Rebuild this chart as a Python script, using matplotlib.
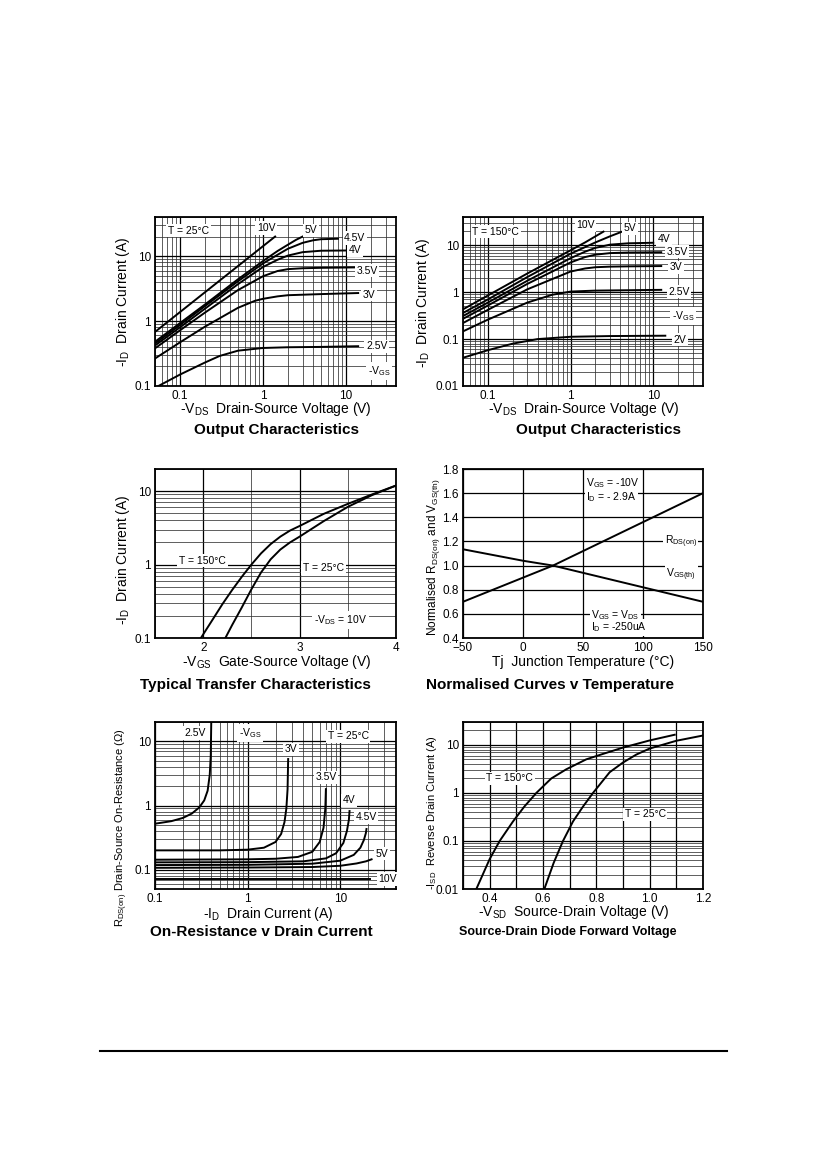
import matplotlib
matplotlib.use('Agg')
import matplotlib.pyplot as plt
from matplotlib.lines import Line2D
from matplotlib.ticker import LogLocator, NullFormatter, FuncFormatter, MultipleLocator

plt.rcParams['font.family'] = ['Liberation Sans', 'DejaVu Sans']
plt.rcParams['mathtext.fontset'] = 'custom'
plt.rcParams['mathtext.rm'] = 'Liberation Sans'
plt.rcParams['mathtext.it'] = 'Liberation Sans:italic'
plt.rcParams['mathtext.bf'] = 'Liberation Sans:bold'

W, H = 826, 1169

# ---- output characteristics, T = 25C  (-VDS, -ID)
out25 = {
    '10V': ([0.05, 1.4], [0.68, 20]),
    '5V': ([0.05, 0.1, 0.2, 0.5, 1, 1.5, 2, 2.5, 3],
           [0.48, 0.93, 1.8, 4.4, 8.4, 12, 15, 17.8, 20]),
    '4.5V': ([0.05, 0.1, 0.2, 0.5, 1, 1.5, 2, 3, 4, 5, 8],
             [0.45, 0.87, 1.7, 4.1, 7.7, 10.5, 13, 16, 17.5, 18.2, 18.5]),
    '4V': ([0.05, 0.1, 0.2, 0.5, 1, 1.5, 2, 3, 5, 10],
           [0.42, 0.8, 1.55, 3.7, 6.8, 8.8, 10.2, 11.5, 12.1, 12.2]),
    '3.5V': ([0.05, 0.1, 0.2, 0.5, 1, 1.5, 2, 3, 5, 13],
             [0.38, 0.72, 1.35, 3.0, 4.9, 5.9, 6.3, 6.5, 6.6, 6.7]),
    '3V': ([0.05, 0.1, 0.2, 0.5, 0.8, 1, 1.5, 2, 5, 14],
           [0.265, 0.47, 0.82, 1.6, 2.05, 2.2, 2.4, 2.5, 2.6, 2.7]),
    '2.5V': ([0.055, 0.1, 0.2, 0.3, 0.5, 1, 2, 5, 14],
             [0.1, 0.15, 0.23, 0.29, 0.35, 0.385, 0.395, 0.4, 0.41]),
}
out25_labels = [('T = 25°C', 0.072, 24.5), ('10V', 0.85, 27), ('5V', 3.16, 25),
                ('4.5V', 9.5, 19), ('4V', 10.8, 12.3), ('3.5V', 13.4, 6.0),
                ('3V', 15.8, 2.55), ('2.5V', 17.4, 0.41), (r'-V$_\mathregular{GS}$', 18.2, 0.17)]

# ---- output characteristics, T = 150C
out150 = {
    '10V': ([0.05, 0.1, 0.3, 1, 1.5, 2.5], [0.43, 0.85, 2.5, 7.8, 11.5, 19.5]),
    '5V': ([0.05, 0.1, 0.3, 1, 2, 3, 4.2], [0.36, 0.7, 2.1, 6.6, 11.5, 15.5, 19.5]),
    '4V': ([0.05, 0.1, 0.3, 1, 1.5, 2, 3, 5, 10],
           [0.31, 0.6, 1.75, 5.3, 7.3, 8.8, 10.3, 11, 11.3]),
    '3.5V': ([0.05, 0.1, 0.3, 1, 1.5, 2, 3, 5, 12.5],
             [0.27, 0.52, 1.5, 4.3, 5.6, 6.3, 6.8, 7, 7.1]),
    '3V': ([0.05, 0.1, 0.3, 1, 1.5, 2, 3, 5, 12.5],
           [0.22, 0.42, 1.15, 2.75, 3.2, 3.4, 3.5, 3.55, 3.6]),
    '2.5V': ([0.05, 0.1, 0.3, 0.6, 1, 2, 5, 12.5],
             [0.146, 0.26, 0.6, 0.88, 1.03, 1.08, 1.1, 1.12]),
    '2V': ([0.05, 0.1, 0.2, 0.4, 1, 3, 14], [0.04, 0.058, 0.08, 0.1, 0.112, 0.116, 0.118]),
}
out150_labels = [('T = 150°C', 0.065, 19.5), ('10V', 1.17, 27), ('5V', 4.4, 23),
                 ('4V', 11.4, 13.5), ('3.5V', 14.5, 7.3), ('3V', 15.9, 3.4),
                 ('2.5V', 15.2, 1.03), (r'-V$_\mathregular{GS}$', 16.7, 0.31), ('2V', 17.5, 0.097)]

# ---- transfer characteristics (-VGS, -ID), -VDS = 10V
vgs_150 = [1.976, 2.1, 2.2, 2.3, 2.4, 2.5, 2.6, 2.7, 2.8, 2.9, 3.0, 3.25, 3.5, 3.75, 4.0]
id_150 = [0.1, 0.18, 0.29, 0.45, 0.68, 1.0, 1.42, 1.9, 2.4, 2.9, 3.35, 4.9, 6.7, 9.0, 11.9]
vgs_25 = [2.23, 2.3, 2.4, 2.5, 2.6, 2.7, 2.8, 2.9, 3.0, 3.25, 3.5, 3.75, 4.0]
id_25 = [0.1, 0.15, 0.26, 0.46, 0.78, 1.18, 1.6, 2.0, 2.4, 3.9, 6.1, 8.8, 11.9]

# ---- normalised curves v temperature
tj = [-50, 0, 25, 50, 100, 150]
rds_norm = [0.70, 0.90, 1.0, 1.12, 1.36, 1.60]
vth_norm = [1.135, 1.04, 1.0, 0.94, 0.82, 0.70]

# ---- on-resistance v drain current (-ID, RDS(on))
ron = {
    '2.5V': ([0.1, 0.15, 0.2, 0.25, 0.3, 0.34, 0.37, 0.39, 0.40, 0.405],
             [0.52, 0.57, 0.64, 0.75, 0.93, 1.2, 1.7, 3.0, 6.0, 20]),
    '3V': ([0.1, 0.5, 1, 1.5, 2.0, 2.3, 2.5, 2.62, 2.7, 2.74],
           [0.2, 0.2, 0.205, 0.22, 0.27, 0.36, 0.55, 0.9, 1.8, 5.3]),
    '3.5V': ([0.1, 1, 2, 3.5, 5, 6, 6.6, 6.9, 7.0],
             [0.143, 0.145, 0.148, 0.158, 0.19, 0.27, 0.45, 0.9, 1.8]),
    '4V': ([0.1, 1, 4, 7, 9, 10.8, 11.8, 12.4, 12.6],
           [0.13, 0.131, 0.135, 0.15, 0.18, 0.26, 0.4, 0.6, 0.82]),
    '4.5V': ([0.1, 1, 5, 10, 14, 16.5, 18, 18.9, 19.2],
             [0.118, 0.119, 0.124, 0.138, 0.17, 0.22, 0.29, 0.37, 0.43]),
    '5V': ([0.1, 1, 5, 10, 15, 19, 21.8], [0.107, 0.108, 0.11, 0.115, 0.125, 0.135, 0.145]),
    '10V': ([0.1, 21], [0.072, 0.072]),
}
ron_labels = [('2.5V', 0.21, 13.5), (r'-V$_\mathregular{GS}$', 0.81, 13.5), ('T = 25°C', 7.3, 12.0),
              ('3V', 2.51, 7.5), ('3.5V', 5.4, 2.76), ('4V', 10.7, 1.2),
              ('4.5V', 14.6, 0.66), ('5V', 24, 0.177), ('10V', 26, 0.072)]

# ---- source-drain diode forward voltage (-VSD, -ISD)
vsd_150 = [0.35, 0.4, 0.4375, 0.4875, 0.53, 0.575, 0.631, 0.687, 0.762, 0.825, 0.9, 1.0, 1.094]
isd_150 = [0.01, 0.042, 0.1, 0.255, 0.52, 1.0, 2.0, 3.1, 5.0, 6.5, 8.8, 12.4, 16.3]
vsd_25 = [0.605, 0.64, 0.675, 0.7125, 0.75, 0.7875, 0.85, 0.9, 0.95, 1.0, 1.1, 1.2]
isd_25 = [0.01, 0.035, 0.1, 0.255, 0.52, 1.0, 2.7, 4.3, 6.3, 8.4, 12.2, 15.7]


def px_box(l, t, r, b):
    return [l / W, 1 - b / H, (r - l) / W, (b - t) / H]


def ftext(x, y, s, **kw):
    fig.text(x / W, 1 - y / H, s, ha='center', va='center', **kw)


def setup(ax, xlog, ylog):
    fmt = FuncFormatter(lambda v, p: '%g' % v)
    if xlog:
        ax.set_xscale('log')
        ax.xaxis.set_major_locator(LogLocator(base=10))
        ax.xaxis.set_minor_locator(LogLocator(base=10, subs=range(2, 10)))
        ax.xaxis.set_minor_formatter(NullFormatter())
        ax.xaxis.set_major_formatter(fmt)
    if ylog:
        ax.set_yscale('log')
        ax.yaxis.set_major_locator(LogLocator(base=10))
        ax.yaxis.set_minor_locator(LogLocator(base=10, subs=range(2, 10)))
        ax.yaxis.set_minor_formatter(NullFormatter())
        ax.yaxis.set_major_formatter(fmt)
    ax.grid(which='major', color='black', lw=0.9)
    ax.grid(which='minor', color='0.2', lw=0.55)
    ax.set_axisbelow(True)
    ax.tick_params(which='both', length=0, labelsize=8.5, pad=3)
    for s in ax.spines.values():
        s.set_linewidth(1.3)


def tag(ax, s, x, y, size=7.5):
    ax.text(x, y, s, fontsize=size, ha='left', va='center', zorder=5,
            bbox=dict(facecolor='white', edgecolor='none', pad=1.2))


fig = plt.figure(figsize=(W / 100, H / 100), dpi=100)
lw = 1.4

# panel 1
ax1 = fig.add_axes(px_box(155, 217, 396, 386))
setup(ax1, True, True)
for k, (x, y) in out25.items():
    ax1.plot(x, y, color='black', lw=lw)
ax1.set_xlim(0.05, 40)
ax1.set_ylim(0.1, 40)
for s, x, y in out25_labels:
    tag(ax1, s, x, y)
ftext(123, 302, r'-I$_\mathregular{D}$  Drain Current (A)', rotation=90, fontsize=10)
ftext(276, 409, r'-V$_\mathregular{DS}$  Drain-Source Voltage (V)', fontsize=10)
ftext(277, 430, 'Output Characteristics', fontsize=11, fontweight='bold')

# panel 2
ax2 = fig.add_axes(px_box(463, 217, 703, 386))
setup(ax2, True, True)
for k, (x, y) in out150.items():
    ax2.plot(x, y, color='black', lw=lw)
ax2.set_xlim(0.05, 40)
ax2.set_ylim(0.01, 40)
for s, x, y in out150_labels:
    tag(ax2, s, x, y)
ftext(423, 303, r'-I$_\mathregular{D}$  Drain Current (A)', rotation=90, fontsize=10)
ftext(584, 409, r'-V$_\mathregular{DS}$  Drain-Source Voltage (V)', fontsize=10)
ftext(598, 430, 'Output Characteristics', fontsize=11, fontweight='bold')

# panel 3
ax3 = fig.add_axes(px_box(155, 469, 396, 638))
setup(ax3, False, True)
ax3.plot(vgs_150, id_150, color='black', lw=lw)
ax3.plot(vgs_25, id_25, color='black', lw=lw)
ax3.set_xlim(1.5, 4)
ax3.set_ylim(0.1, 20)
ax3.xaxis.set_major_locator(MultipleLocator(1))
ax3.xaxis.set_minor_locator(MultipleLocator(0.5))
ax3.xaxis.set_major_formatter(FuncFormatter(lambda v, p: '%g' % v))
tag(ax3, 'T = 150°C', 1.75, 1.13)
tag(ax3, 'T = 25°C', 3.035, 0.9)
tag(ax3, r'-V$_\mathregular{DS}$ = 10V', 3.15, 0.176)
ftext(123, 560, r'-I$_\mathregular{D}$  Drain Current (A)', rotation=90, fontsize=10)
ftext(277, 662, r'-V$_\mathregular{GS}$  Gate-Source Voltage (V)', fontsize=10)
ftext(255, 685, 'Typical Transfer Characteristics', fontsize=11, fontweight='bold')

# panel 4
ax4 = fig.add_axes(px_box(463, 469, 703, 638))
setup(ax4, False, False)
ax4.plot(tj, rds_norm, color='black', lw=lw)
ax4.plot(tj, vth_norm, color='black', lw=lw)
ax4.set_xlim(-50, 150)
ax4.set_ylim(0.4, 1.8)
ax4.xaxis.set_major_locator(MultipleLocator(50))
ax4.yaxis.set_major_locator(MultipleLocator(0.2))
ax4.yaxis.set_major_formatter(FuncFormatter(lambda v, p: '%.1f' % v))
tag(ax4, r'V$_\mathregular{GS}$ = -10V', 52.8, 1.68)
tag(ax4, r'I$_\mathregular{D}$ = - 2.9A', 52.8, 1.57)
tag(ax4, r'R$_\mathregular{DS(on)}$', 118, 1.2)
tag(ax4, r'V$_\mathregular{GS(th)}$', 119.4, 0.92)
tag(ax4, r'V$_\mathregular{GS}$ = V$_\mathregular{DS}$', 57, 0.59)
tag(ax4, r'I$_\mathregular{D}$ = -250uA', 57, 0.49)
ftext(433, 557, r'Normalised R$_\mathregular{DS(on)}$ and V$_\mathregular{GS(th)}$',
      rotation=90, fontsize=8.5)
ftext(583, 662, 'Tj  Junction Temperature (°C)', fontsize=10)
ftext(550, 685, 'Normalised Curves v Temperature', fontsize=11, fontweight='bold')

# panel 5
ax5 = fig.add_axes(px_box(155, 722, 396, 889))
setup(ax5, True, True)
for k, (x, y) in ron.items():
    ax5.plot(x, y, color='black', lw=lw)
ax5.set_xlim(0.1, 40)
ax5.set_ylim(0.05, 20)
for s, x, y in ron_labels:
    tag(ax5, s, x, y)
ftext(122, 828, r'R$_\mathregular{DS(on)}$ Drain-Source On-Resistance (Ω)', rotation=90, fontsize=8)
ftext(268, 914, r'-I$_\mathregular{D}$  Drain Current (A)', fontsize=10)
ftext(261, 932, 'On-Resistance v Drain Current', fontsize=11, fontweight='bold')

# panel 6
ax6 = fig.add_axes(px_box(463, 722, 703, 889))
setup(ax6, False, True)
ax6.plot(vsd_150, isd_150, color='black', lw=lw)
ax6.plot(vsd_25, isd_25, color='black', lw=lw)
ax6.set_xlim(0.3, 1.2)
ax6.set_ylim(0.01, 30)
ax6.xaxis.set_major_locator(MultipleLocator(0.2))
ax6.xaxis.set_minor_locator(MultipleLocator(0.1))
ax6.xaxis.set_major_formatter(FuncFormatter(lambda v, p: '%.1f' % v))
ax6.grid(which='minor', axis='x', color='black', lw=0.9)
tag(ax6, 'T = 150°C', 0.3875, 2.03)
tag(ax6, 'T = 25°C', 0.906, 0.36)
ftext(432, 813, r'-I$_\mathregular{SD}$  Reverse Drain Current (A)', rotation=90, fontsize=8)
ftext(574, 912, r'-V$_\mathregular{SD}$  Source-Drain Voltage (V)', fontsize=10)
ftext(568, 932, 'Source-Drain Diode Forward Voltage', fontsize=9, fontweight='bold')

fig.add_artist(Line2D([100 / W, 727 / W], [1 - 1051 / H, 1 - 1051 / H], color='black', lw=1.5))

fig.savefig('out.png', dpi=100)
